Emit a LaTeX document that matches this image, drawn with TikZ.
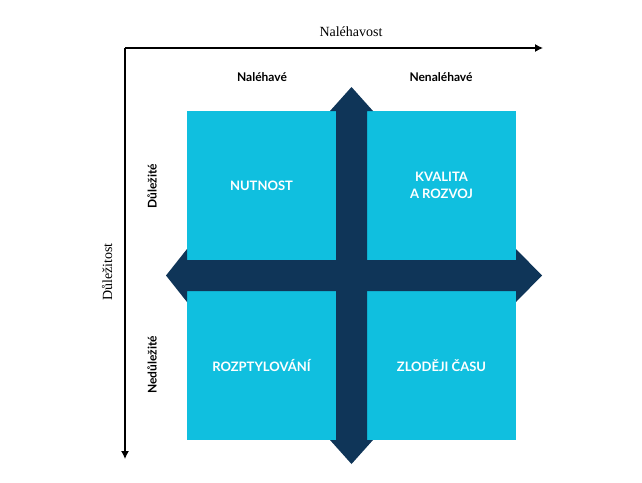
\documentclass[tikz,border=0pt]{standalone}
\usepackage{fontspec}
\usetikzlibrary{arrows.meta}
\setmainfont{Liberation Serif}
\newfontfamily\lato{Lato}
\definecolor{cy}{HTML}{10BFDF}
\definecolor{navy}{HTML}{0F3558}
\begin{document}
\begin{tikzpicture}[x=1pt,y=-1pt,
  quad/.style={fill=cy,minimum width=149pt,minimum height=149pt,inner sep=0pt,text=white,font=\lato\bfseries\fontsize{13}{17}\selectfont,align=center},
  lab/.style={font=\lato\bfseries\fontsize{12}{14}\selectfont},
  ax/.style={draw=black,line width=1.2pt,-{Latex[length=8pt,width=8pt]}}]
\useasboundingbox (0,0) rectangle (642,482);
\node[quad] (nut) at (261.5,185.5) {NUTNOST};
\node[quad] (kva) at (441.5,185.5) {KVALITA\\A ROZVOJ};
\node[quad] (roz) at (261.5,365.5) {ROZPTYLOVÁNÍ};
\node[quad] (zlo) at (441.5,365.5) {ZLODĚJI ČASU};
\fill[navy] (336,111) -- (330,111) -- (351.5,87) -- (373,111) -- (367,111) -- (367,440) -- (373,440) -- (351.5,464) -- (330,440) -- (336,440) -- cycle;
\fill[navy] (187,260) -- (187,249) -- (166,275.5) -- (187,302) -- (187,291) -- (516,291) -- (516,302) -- (542,275.5) -- (516,249) -- (516,260) -- cycle;
\coordinate (o) at (125,48);
\coordinate (xe) at (543,48);
\coordinate (ye) at (125,459);
\draw[ax] (o) -- (xe);
\draw[ax] (o) -- (ye);
\node[font=\fontsize{14}{16}\selectfont] (nal) at (351,32) {Naléhavost};
\node[font=\fontsize{14}{16}\selectfont,rotate=90] (dul) at (107,272) {Důležitost};
\node[lab] (c1) at (262,77) {Naléhavé};
\node[lab] (c2) at (441,77) {Nenaléhavé};
\node[lab,rotate=90] (r1) at (152,186) {Důležité};
\node[lab,rotate=90] (r2) at (152,365) {Nedůležité};
\end{tikzpicture}
\end{document}
